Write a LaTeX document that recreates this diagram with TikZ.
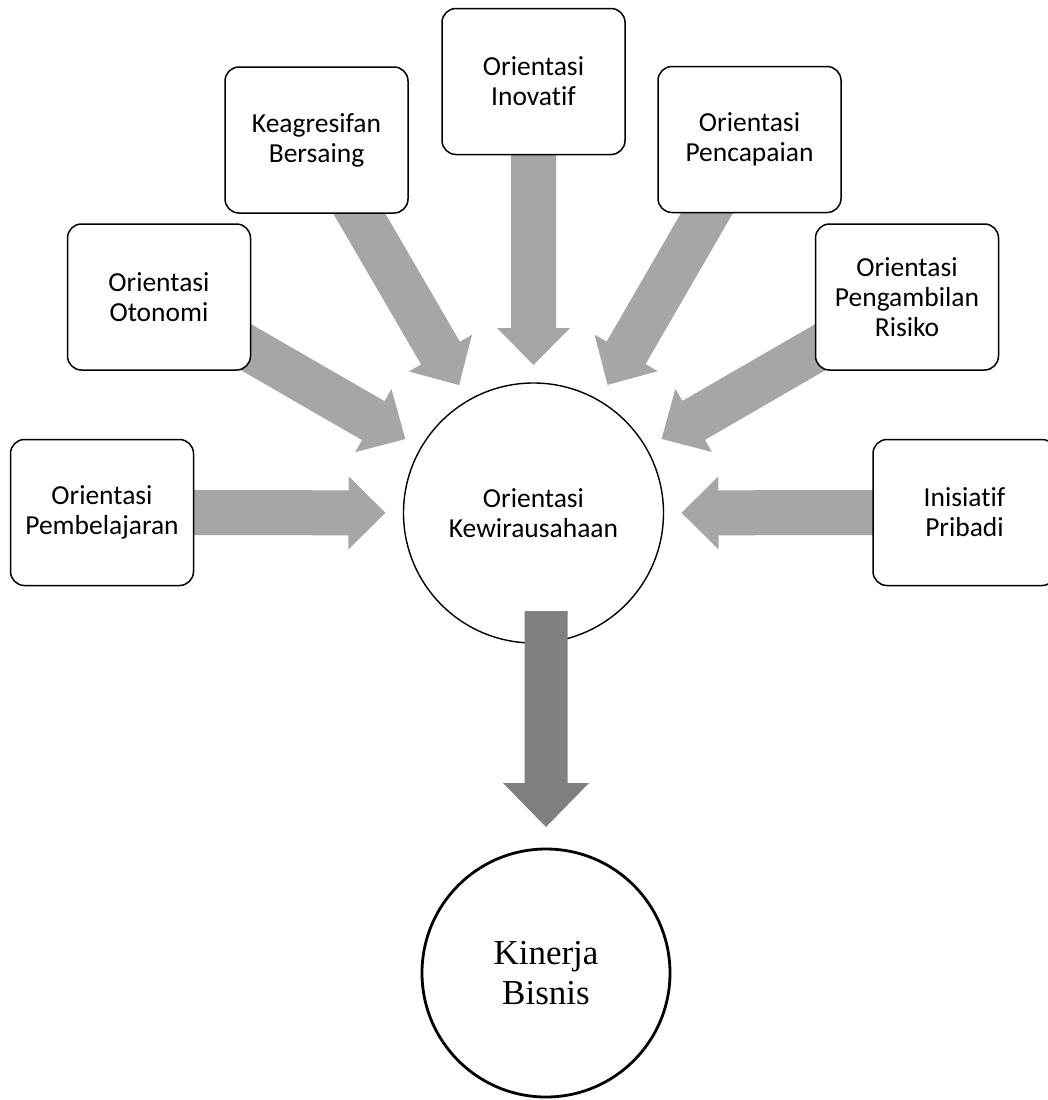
\documentclass[tikz,border=0pt]{standalone}
\usepackage{fontspec}
\setmainfont{Carlito}[Ligatures=NoCommon]
\newfontfamily\serifbig{Liberation Serif}
\usetikzlibrary{calc,backgrounds}
\definecolor{lightarr}{RGB}{166,166,166}
\definecolor{darkarr}{RGB}{128,128,128}
\begin{document}
\begin{tikzpicture}[x=1pt,y=-1pt,inner sep=0pt,outer sep=0pt,
factor/.style={draw,rectangle,rounded corners=14pt,fill=white,line width=1.5pt,minimum width=183pt,minimum height=146pt,align=center,font=\fontsize{27.5}{30}\selectfont},
hub/.style={draw,circle,fill=white,line width=1.4pt,minimum size=260pt,align=center,font=\fontsize{27.5}{30}\selectfont},
result/.style={draw,circle,fill=white,line width=2.8pt,minimum size=248pt,align=center,font=\serifbig\fontsize{35}{40}\selectfont}]
\useasboundingbox (0,0) rectangle (1047,1100);
\draw (533.5,513) node[hub] (okw) {Orientasi\\Kewirausahaan};
\draw (102,512.5) node[factor] (pemb) {Orientasi\\Pembelajaran};
\draw (159,297) node[factor] (oton) {Orientasi\\Otonomi};
\draw (316.5,140) node[factor] (keag) {Keagresifan\\Bersaing};
\draw (533.5,81.5) node[factor] (inov) {Orientasi\\Inovatif};
\draw (749.5,139.5) node[factor] (penc) {Orientasi\\Pencapaian};
\draw (907,297) node[factor] (peng) {Orientasi\\Pengambilan\\Risiko};
\draw (964.5,512.5) node[factor] (inis) {Inisiatif\\Pribadi};
\draw (546,973) node[result] (kb) {Kinerja\\Bisnis};
% fat arrows into the hub, behind the boxes
\begin{scope}[on background layer]
\foreach \src in {pemb,oton,keag,inov,penc,peng,inis} {
  \coordinate (tip) at ($(okw.center)!148pt!(\src.center)$);
  \coordinate (base) at ($(okw.center)!185pt!(\src.center)$);
  \fill[lightarr] (tip)
    -- ($(base)!36.5pt!90:(okw.center)$) -- ($(base)!22.5pt!90:(okw.center)$)
    -- ($(\src.center)!22.5pt!90:(okw.center)$) -- ($(\src.center)!22.5pt!-90:(okw.center)$)
    -- ($(base)!22.5pt!-90:(okw.center)$) -- ($(base)!36.5pt!-90:(okw.center)$) -- cycle;
}
\end{scope}
\coordinate (dtip) at ($(kb.north)+(0,-22)$);
\fill[darkarr] (dtip) -- ++(-43,-44) -- ++(21.5,0) -- ++(0,-172) -- ++(43,0) -- ++(0,172) -- ++(21.5,0) -- cycle;
\end{tikzpicture}
\end{document}
